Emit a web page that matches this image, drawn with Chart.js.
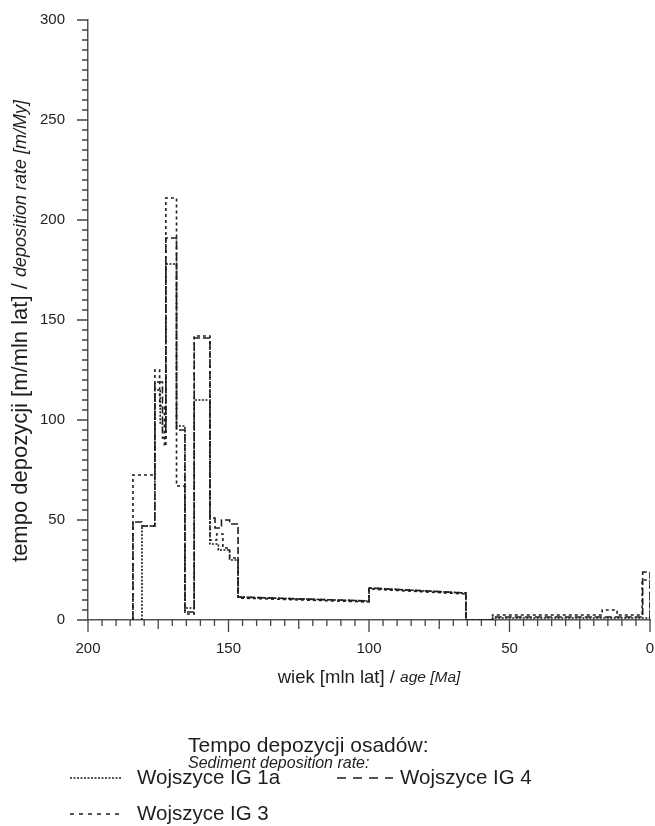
<!DOCTYPE html>
<html>
<head>
<meta charset="utf-8">
<script src="https://cdn.jsdelivr.net/npm/chart.js@4.4.0/dist/chart.umd.min.js"></script>
<style>
  html, body { margin: 0; padding: 0; background: #fff; }
  #wrap { width: 655px; height: 826px; }
</style>
</head>
<body>
<div id="wrap"><canvas id="myChart" width="655" height="826"></canvas></div>
<script>
const fontFam = "'Liberation Sans', Arial, sans-serif";
const ink = '#1e1e1e';

// series names (legend order)
const seriesNames = ["Wojszyce IG 1a", "Wojszyce IG 4", "Wojszyce IG 3"];

// step outlines: age [Ma] and deposition rate [m/My]
const ig1aAge  = [180.8, 180.8, 176.2, 176.2, 174.3, 174.3, 172.3, 172.3, 168.5, 168.5, 165.5, 165.5, 162.2, 162.2, 156.6, 156.6, 153.6, 153.6, 149.6, 149.6, 146.6, 146.6, 100, 100, 65.5, 65.5, 56, 56, 0, 0];
const ig1aRate = [0, 47, 47, 115, 115, 98, 98, 178, 178, 97, 97, 6, 6, 110, 110, 38, 38, 35, 35, 30, 30, 11.5, 9.5, 16, 13.5, 0, 0, 1, 1, 0];

const ig4Age  = [184, 184, 180.8, 180.8, 176.2, 176.2, 173.5, 173.5, 172.3, 172.3, 168.5, 168.5, 165.5, 165.5, 162.2, 162.2, 156.6, 156.6, 154.8, 154.8, 152.5, 152.5, 149.6, 149.6, 146.6, 146.6, 100, 100, 65.5, 65.5, 56, 56, 2.6, 2.6, 0, 0];
const ig4Rate = [0, 49, 49, 47, 47, 119, 119, 91, 91, 191, 191, 95, 95, 4, 4, 141, 141, 51, 51, 46, 46, 50, 50, 48, 48, 11.5, 9.5, 16, 13.5, 0, 0, 1.5, 1.5, 24, 24, 0];

const ig3Age  = [184, 184, 176.2, 176.2, 174.5, 174.5, 172.8, 172.8, 172.3, 172.3, 168.5, 168.5, 165.5, 165.5, 162.2, 162.2, 156.6, 156.6, 154.2, 154.2, 152, 152, 149.6, 149.6, 146.6, 146.6, 100, 100, 65.5, 65.5, 56, 56, 17, 17, 11.7, 11.7, 2.8, 2.8, 0, 0];
const ig3Rate = [0, 72.5, 72.5, 125, 125, 107, 107, 87, 87, 211, 211, 67, 67, 3, 3, 142, 142, 40, 40, 43, 43, 36, 36, 31, 31, 11, 9, 15.5, 13, 0, 0, 2.5, 2.5, 5, 5, 2.5, 2.5, 20, 20, 0];

const yTickValues = [0, 50, 100, 150, 200, 250, 300];
const xTickValues = [200, 150, 100, 50, 0];

function toPoints(ages, rates) {
  return ages.map((a, i) => ({ x: a, y: rates[i] }));
}

const datasets = [
  { label: seriesNames[0], data: toPoints(ig1aAge, ig1aRate), borderDash: [2, 1.5], legendDash: [2, 1.5] },
  { label: seriesNames[1], data: toPoints(ig4Age, ig4Rate), borderDash: [7, 3], legendDash: [9, 7] },
  { label: seriesNames[2], data: toPoints(ig3Age, ig3Rate), borderDash: [3, 3], legendDash: [4, 5] }
].map(d => Object.assign(d, {
  borderColor: ink,
  borderWidth: 1.6,
  pointRadius: 0,
  tension: 0,
  fill: false
}));

// minor / major tick marks on both axes
const tickMarks = {
  id: 'tickMarks',
  afterDraw(chart) {
    const ctx = chart.ctx;
    const xs = chart.scales.x, ys = chart.scales.y;
    const area = chart.chartArea;
    ctx.save();
    ctx.strokeStyle = '#444';
    ctx.lineWidth = 1.3;
    ctx.beginPath();
    for (let v = ys.min; v <= ys.max; v += 5) {
      const y = ys.getPixelForValue(v);
      const len = v % 50 === 0 ? 11 : 6;
      ctx.moveTo(area.left - len, y);
      ctx.lineTo(area.left, y);
    }
    for (let v = xs.min; v <= xs.max; v += 5) {
      const x = xs.getPixelForValue(v);
      const len = v % 50 === 0 ? 12 : (v % 25 === 0 ? 9 : 6);
      ctx.moveTo(x, area.bottom);
      ctx.lineTo(x, area.bottom + len);
    }
    ctx.stroke();
    ctx.restore();
  }
};

// axis titles with italic english part, and the legend block
const textLayer = {
  id: 'textLayer',
  afterDraw(chart) {
    const ctx = chart.ctx;
    const area = chart.chartArea;
    ctx.save();
    ctx.fillStyle = ink;
    ctx.textBaseline = 'middle';

    function mixed(parts, cx, cy) {
      let total = 0;
      parts.forEach(p => { ctx.font = p.f; p.w = ctx.measureText(p.t).width; total += p.w; });
      let x = cx - total / 2;
      ctx.textAlign = 'left';
      parts.forEach(p => { ctx.font = p.f; ctx.fillText(p.t, x, cy); x += p.w; });
    }

    // y title
    ctx.save();
    ctx.translate(21, 331);
    ctx.rotate(-Math.PI / 2);
    mixed([
      { t: 'tempo depozycji [m/mln lat] / ', f: '22px ' + fontFam },
      { t: 'deposition rate [m/My]', f: 'italic 18px ' + fontFam }
    ], 0, 0);
    ctx.restore();

    // x title
    mixed([
      { t: 'wiek [mln lat] / ', f: '18.5px ' + fontFam },
      { t: 'age [Ma]', f: 'italic 15.5px ' + fontFam }
    ], (area.left + area.right) / 2, 678);

    // legend
    ctx.textAlign = 'left';
    ctx.font = '21px ' + fontFam;
    ctx.fillText('Tempo depozycji osadów:', 188, 746);
    ctx.font = 'italic 16px ' + fontFam;
    ctx.fillText('Sediment deposition rate:', 188, 764);

    const slots = [
      { x0: 70, x1: 122, tx: 137, y: 778 },
      { x0: 337, x1: 393, tx: 400, y: 778 },
      { x0: 70, x1: 122, tx: 137, y: 814 }
    ];
    chart.data.datasets.forEach((ds, i) => {
      const s = slots[i];
      ctx.strokeStyle = ink;
      ctx.lineWidth = 1.5;
      ctx.setLineDash(ds.legendDash);
      ctx.beginPath();
      ctx.moveTo(s.x0, s.y);
      ctx.lineTo(s.x1, s.y);
      ctx.stroke();
      ctx.setLineDash([]);
      ctx.font = '20.5px ' + fontFam;
      ctx.fillText(ds.label, s.tx, s.y);
    });
    ctx.restore();
  }
};

const config = {
  type: 'line',
  data: { datasets },
  options: {
    responsive: false,
    animation: false,
    devicePixelRatio: 1,
    layout: { padding: { top: 20, right: 5, left: 0, bottom: 0 } },
    plugins: { legend: { display: false }, tooltip: { enabled: false } },
    scales: {
      x: {
        type: 'linear',
        min: 0,
        max: 200,
        reverse: true,
        grid: { display: false },
        border: { display: true, color: '#555', width: 1.5 },
        ticks: {
          stepSize: 50,
          padding: 12,
          color: ink,
          font: { family: fontFam, size: 15 },
          callback: v => xTickValues.includes(v) ? String(v) : ''
        },
        afterFit: s => { s.height = 206; s.paddingLeft = 0; s.paddingRight = 0; }
      },
      y: {
        min: 0,
        max: 300,
        grid: { display: false },
        border: { display: true, color: '#555', width: 1.5 },
        ticks: {
          stepSize: 50,
          padding: 15,
          color: ink,
          font: { family: fontFam, size: 15 },
          callback: v => yTickValues.includes(v) ? String(v) : ''
        },
        afterFit: s => { s.width = 88; s.paddingTop = 0; s.paddingBottom = 0; }
      }
    }
  },
  plugins: [tickMarks, textLayer]
};

const ctx = document.getElementById('myChart').getContext('2d');
const myChart = new Chart(ctx, config);
</script>
</body>
</html>
